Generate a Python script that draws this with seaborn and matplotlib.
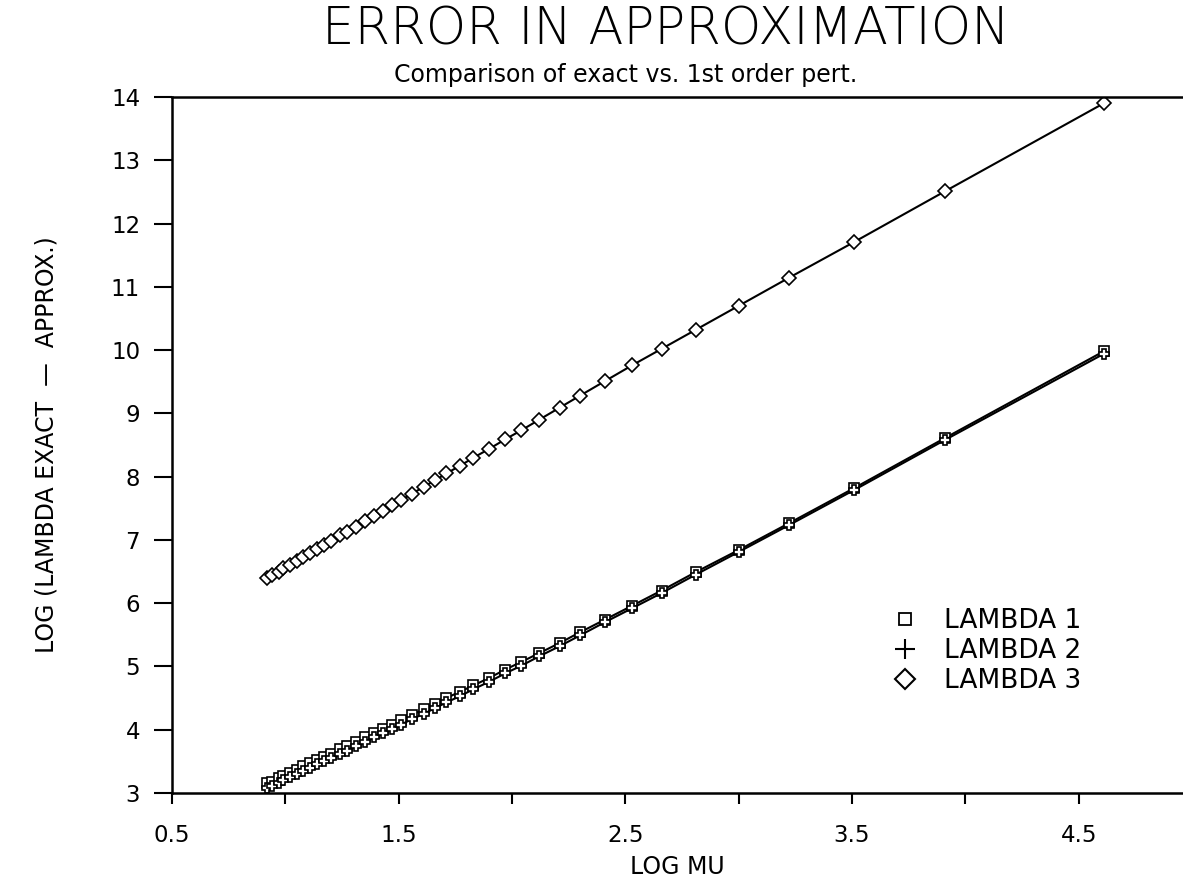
import numpy as np
import pandas as pd
import matplotlib
matplotlib.use('Agg')
import matplotlib.pyplot as plt
from matplotlib.lines import Line2D
import seaborn as sns

# log(mu) values (same for all three series)
log_mu = [0.92, 0.94, 0.97, 0.99, 1.02, 1.05, 1.08, 1.11, 1.14, 1.17,
          1.20, 1.24, 1.27, 1.31, 1.35, 1.39, 1.43, 1.47, 1.51, 1.56,
          1.61, 1.66, 1.71, 1.77, 1.83, 1.90, 1.97, 2.04, 2.12, 2.21,
          2.30, 2.41, 2.53, 2.66, 2.81, 3.00, 3.22, 3.51, 3.91, 4.61]

lambda_1 = [3.16, 3.18, 3.23, 3.27, 3.32, 3.37, 3.42, 3.47, 3.52, 3.57,
            3.62, 3.69, 3.74, 3.81, 3.88, 3.95, 4.01, 4.08, 4.15, 4.24,
            4.32, 4.41, 4.50, 4.60, 4.70, 4.82, 4.95, 5.07, 5.21, 5.37,
            5.54, 5.74, 5.96, 6.20, 6.49, 6.84, 7.26, 7.82, 8.61, 9.98]

lambda_2 = [3.08, 3.11, 3.16, 3.20, 3.25, 3.30, 3.35, 3.40, 3.45, 3.50,
            3.55, 3.62, 3.67, 3.74, 3.81, 3.88, 3.94, 4.01, 4.08, 4.17,
            4.25, 4.34, 4.43, 4.53, 4.64, 4.76, 4.89, 5.01, 5.16, 5.32,
            5.49, 5.70, 5.92, 6.16, 6.45, 6.81, 7.23, 7.79, 8.58, 9.94]

lambda_3 = [6.40, 6.44, 6.50, 6.55, 6.61, 6.67, 6.73, 6.80, 6.86, 6.92,
            6.98, 7.07, 7.13, 7.21, 7.30, 7.38, 7.46, 7.55, 7.63, 7.73,
            7.84, 7.94, 8.05, 8.17, 8.30, 8.44, 8.59, 8.73, 8.90, 9.09,
            9.28, 9.51, 9.76, 10.02, 10.32, 10.70, 11.14, 11.71, 12.51, 13.90]

series_names = ['LAMBDA 1', 'LAMBDA 2', 'LAMBDA 3']
x_ticks = [0.5, 1.0, 1.5, 2.0, 2.5, 3.0, 3.5, 4.0, 4.5]
x_tick_labels = ['0.5', '', '1.5', '', '2.5', '', '3.5', '', '4.5']
y_ticks = list(range(3, 15))


def build_frame():
    frames = []
    for name, vals in zip(series_names, [lambda_1, lambda_2, lambda_3]):
        frames.append(pd.DataFrame({'log_mu': log_mu, 'err': vals, 'series': name}))
    return pd.concat(frames, ignore_index=True)


def main():
    sns.set_style('ticks')
    plt.rcParams['font.family'] = ['DejaVu Sans']
    plt.rcParams['text.color'] = 'black'
    plt.rcParams['axes.labelcolor'] = 'black'
    plt.rcParams['xtick.color'] = 'black'
    plt.rcParams['ytick.color'] = 'black'
    plt.rcParams['axes.edgecolor'] = 'black'

    df = build_frame()
    markers = {'LAMBDA 1': 's', 'LAMBDA 2': 'P', 'LAMBDA 3': 'D'}

    fig = plt.figure(figsize=(11.83, 8.86), dpi=100)
    ax = fig.add_axes([0.1454, 0.105, 0.8546, 0.7855])

    sns.lineplot(data=df, x='log_mu', y='err', style='series', markers=markers,
                 dashes=False, color='black', linewidth=1.5, markersize=7,
                 markerfacecolor='white', markeredgecolor='black',
                 markeredgewidth=1.2, legend=False, sort=True, ax=ax)

    ax.set_xlim(0.5, 4.96)
    ax.set_ylim(3, 14)
    ax.set_xticks(x_ticks)
    ax.set_xticklabels(x_tick_labels)
    ax.set_yticks(y_ticks)
    ax.tick_params(axis='y', direction='out', length=13, width=1.5, labelsize=16.5, pad=10)
    ax.tick_params(axis='x', direction='out', length=8, width=1.5, labelsize=16.5, pad=14)

    for side in ['left', 'bottom', 'top']:
        ax.spines[side].set_linewidth(1.8)
    ax.spines['right'].set_visible(False)

    ax.set_xlabel('LOG MU', fontsize=17, labelpad=6)
    ax.set_ylabel('LOG (LAMBDA EXACT  \u2014  APPROX.)', fontsize=17, labelpad=38)

    fig.text(0.563, 0.966, 'ERROR IN APPROXIMATION', ha='center', va='center',
             fontsize=37, fontweight='light')
    fig.text(0.529, 0.915, 'Comparison of exact vs. 1st order pert.', ha='center',
             va='center', fontsize=17)

    handles = [
        Line2D([], [], linestyle='none', marker='s', markersize=9,
               markerfacecolor='white', markeredgecolor='black', markeredgewidth=1.3),
        Line2D([], [], linestyle='none', marker='+', markersize=14,
               markeredgecolor='black', markeredgewidth=1.5),
        Line2D([], [], linestyle='none', marker='D', markersize=10,
               markerfacecolor='white', markeredgecolor='black', markeredgewidth=1.5),
    ]
    ax.legend(handles, series_names, loc='upper left', bbox_to_anchor=(0.675, 0.30),
              frameon=False, fontsize=19, handletextpad=0.5, labelspacing=0.15)

    fig.savefig('out.png', dpi=100)
    plt.close(fig)


if __name__ == "__main__":
    main()
